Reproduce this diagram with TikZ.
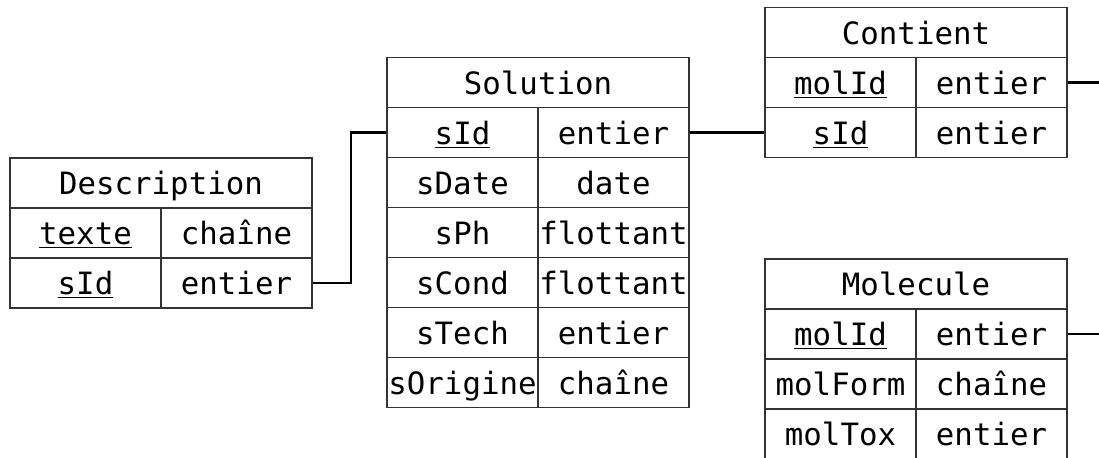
\documentclass[tikz,border=0pt]{standalone}
\usepackage{fontspec}
\setmonofont{DejaVu Sans Mono}
\usepackage{tikz}
\usepackage{xcolor}

\tikzset{
    titre/.style={draw=black!80, line width=0.7pt, minimum width=6.04cm, minimum height=1cm, inner sep=0pt, text height=15pt, text depth=1.5pt},
    champ/.style={draw=black!80, line width=0.7pt, minimum width=3.02cm, minimum height=1cm, inner sep=0pt, text height=15pt, text depth=1.5pt},
    lien/.style={draw, line width=1.2pt}
}

\begin{document}
\begin{tikzpicture}[font=\ttfamily\fontsize{17.5}{20}\selectfont]
    \useasboundingbox (0,0) rectangle (21.98,-9.14);

    % Description
    \node[titre] (d0) at (3.22,-3.66) {Description};
    \node[champ] (d1a) at (1.71,-4.66) {\underline{texte}};
    \node[champ] (d1b) at (4.73,-4.66) {chaîne};
    \node[champ] (d2a) at (1.71,-5.66) {\underline{sId}};
    \node[champ] (d2b) at (4.73,-5.66) {entier};

    % Solution
    \node[titre] (s0) at (10.76,-1.65) {Solution};
    \node[champ] (s1a) at (9.25,-2.65) {\underline{sId}};
    \node[champ] (s1b) at (12.27,-2.65) {entier};
    \node[champ] (s2a) at (9.25,-3.65) {sDate};
    \node[champ] (s2b) at (12.27,-3.65) {date};
    \node[champ] (s3a) at (9.25,-4.65) {sPh};
    \node[champ] (s3b) at (12.27,-4.65) {flottant};
    \node[champ] (s4a) at (9.25,-5.65) {sCond};
    \node[champ] (s4b) at (12.27,-5.65) {flottant};
    \node[champ] (s5a) at (9.25,-6.65) {sTech};
    \node[champ] (s5b) at (12.27,-6.65) {entier};
    \node[champ] (s6a) at (9.25,-7.65) {sOrigine};
    \node[champ] (s6b) at (12.27,-7.65) {chaîne};

    % Contient
    \node[titre] (c0) at (18.32,-0.65) {Contient};
    \node[champ] (c1a) at (16.81,-1.65) {\underline{molId}};
    \node[champ] (c1b) at (19.83,-1.65) {entier};
    \node[champ] (c2a) at (16.81,-2.65) {\underline{sId}};
    \node[champ] (c2b) at (19.83,-2.65) {entier};

    % Molecule
    \node[titre] (m0) at (18.32,-5.68) {Molecule};
    \node[champ] (m1a) at (16.81,-6.68) {\underline{molId}};
    \node[champ] (m1b) at (19.83,-6.68) {entier};
    \node[champ] (m2a) at (16.81,-7.68) {molForm};
    \node[champ] (m2b) at (19.83,-7.68) {chaîne};
    \node[champ] (m3a) at (16.81,-8.68) {molTox};
    \node[champ] (m3b) at (19.83,-8.68) {entier};

    % liens
    \coordinate (sortieC) at (21.98,-1.65);
    \coordinate (sortieM) at (21.98,-6.68);
    \draw[lien] (d2b.east) -- ++(0.76,0) |- (s1a.west);
    \draw[lien] (s1b.east) -- (c2a.west);
    \draw[lien] (c1b.east) -- (sortieC);
    \draw[lien] (m1b.east) -- (sortieM);

\end{tikzpicture}
\end{document}
